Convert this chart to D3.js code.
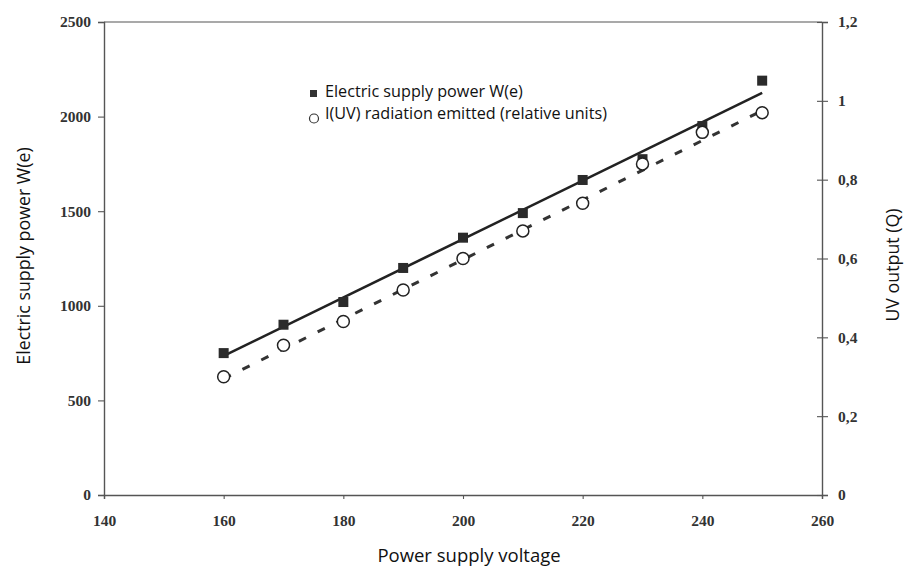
<!DOCTYPE html>
<html>
<head>
<meta charset="utf-8">
<script src="https://cdn.jsdelivr.net/npm/d3@7"></script>
<style>
  html, body { margin: 0; padding: 0; background: #fff; }
  svg { display: block; }
</style>
</head>
<body>
<svg id="chart" width="904" height="568"></svg>
<script>
// ---- data ----
const voltage = [160, 170, 180, 190, 200, 210, 220, 230, 240, 250];
const powerW = [750, 900, 1020, 1200, 1360, 1490, 1665, 1775, 1950, 2190];
const uvOutput = [0.30, 0.38, 0.44, 0.52, 0.60, 0.67, 0.74, 0.84, 0.92, 0.97];
const trendVoltage = [160, 250];
const powerTrend = [735, 2125];
const uvTrend = [0.295, 0.975];
const xTicks = [140, 160, 180, 200, 220, 240, 260];
const leftTicks = [0, 500, 1000, 1500, 2000, 2500];
const rightTicks = [0, 0.2, 0.4, 0.6, 0.8, 1.0, 1.2];
const rightTickLabels = ["0", "0,2", "0,4", "0,6", "0,8", "1", "1,2"];
const legendLabels = ["Electric supply power W(e)", "I(UV) radiation emitted (relative units)"];
const xTitle = "Power supply voltage";
const yLeftTitle = "Electric supply power W(e)";
const yRightTitle = "UV output (Q)";

// ---- layout ----
const L = 104, R = 822, T = 22, B = 495;
const svg = d3.select("#chart");
const x = d3.scaleLinear().domain([140, 260]).range([L, R]);
const yL = d3.scaleLinear().domain([0, 2500]).range([B, T]);
const yR = d3.scaleLinear().domain([0, 1.2]).range([B, T]);

const axisColor = "#555";
const tickFont = "'Liberation Serif', 'DejaVu Serif', serif";
const labelFont = "'Open Sans', Lato, sans-serif";

// frame top line
svg.append("line").attr("x1", L).attr("x2", R).attr("y1", T).attr("y2", T)
  .attr("stroke", axisColor).attr("stroke-width", 1.2);

// left axis
const gL = svg.append("g").attr("transform", `translate(${L},0)`)
  .call(d3.axisLeft(yL).tickValues(leftTicks).tickSize(6).tickPadding(7).tickFormat(d3.format("d")));
// bottom axis
const gB = svg.append("g").attr("transform", `translate(0,${B})`)
  .call(d3.axisBottom(x).tickValues(xTicks).tickSize(4).tickPadding(16).tickFormat(d3.format("d")));
// right axis
const gR = svg.append("g").attr("transform", `translate(${R},0)`)
  .call(d3.axisRight(yR).tickValues(rightTicks).tickSize(6).tickPadding(10)
    .tickFormat((d, i) => rightTickLabels[i]));
gR.selectAll(".tick line").attr("x1", -5);

[gL, gB, gR].forEach(g => {
  g.select(".domain").attr("stroke", axisColor).attr("stroke-width", 1.4);
  g.selectAll(".tick line").attr("stroke", axisColor).attr("stroke-width", 1.1);
  g.selectAll(".tick text").attr("fill", "#333").attr("font-family", tickFont)
    .attr("font-weight", "bold").attr("font-size", 15.5);
});

// trend lines
const lineP = d3.line().x((d, i) => x(trendVoltage[i])).y(d => yL(d));
const lineU = d3.line().x((d, i) => x(trendVoltage[i])).y(d => yR(d));
svg.append("path").datum(powerTrend).attr("d", lineP)
  .attr("stroke", "#222").attr("stroke-width", 2.6).attr("fill", "none");
svg.append("path").datum(uvTrend).attr("d", lineU)
  .attr("stroke", "#333").attr("stroke-width", 3).attr("fill", "none")
  .attr("stroke-dasharray", "8,13");

// squares
const sq = 10;
svg.append("g").selectAll("rect").data(powerW).join("rect")
  .attr("x", (d, i) => x(voltage[i]) - sq / 2)
  .attr("y", d => yL(d) - sq / 2)
  .attr("width", sq).attr("height", sq).attr("fill", "#2b2b2b");

// circles
svg.append("g").selectAll("circle").data(uvOutput).join("circle")
  .attr("cx", (d, i) => x(voltage[i]))
  .attr("cy", d => yR(d))
  .attr("r", 6).attr("fill", "#fff").attr("stroke", "#222").attr("stroke-width", 1.5);

// legend
const lg = svg.append("g");
lg.append("rect").attr("x", 310).attr("y", 90).attr("width", 7).attr("height", 7).attr("fill", "#333");
lg.append("circle").attr("cx", 314).attr("cy", 118.5).attr("r", 4.5)
  .attr("fill", "#fff").attr("stroke", "#333").attr("stroke-width", 1.2);
lg.selectAll("text").data(legendLabels).join("text")
  .attr("x", 325).attr("y", (d, i) => 97 + i * 22)
  .attr("font-family", labelFont).attr("font-size", 16.2).attr("fill", "#111")
  .text(d => d);

// axis titles
svg.append("text").attr("x", 469).attr("y", 562).attr("text-anchor", "middle")
  .attr("font-family", labelFont).attr("font-size", 18.5).attr("fill", "#111").text(xTitle);
svg.append("text").attr("transform", "translate(30,256) rotate(-90)").attr("text-anchor", "middle")
  .attr("font-family", labelFont).attr("font-size", 17.8).attr("fill", "#111").text(yLeftTitle);
svg.append("text").attr("transform", "translate(899,265) rotate(-90)").attr("text-anchor", "middle")
  .attr("font-family", labelFont).attr("font-size", 17.8).attr("fill", "#111").text(yRightTitle);
</script>
</body>
</html>
